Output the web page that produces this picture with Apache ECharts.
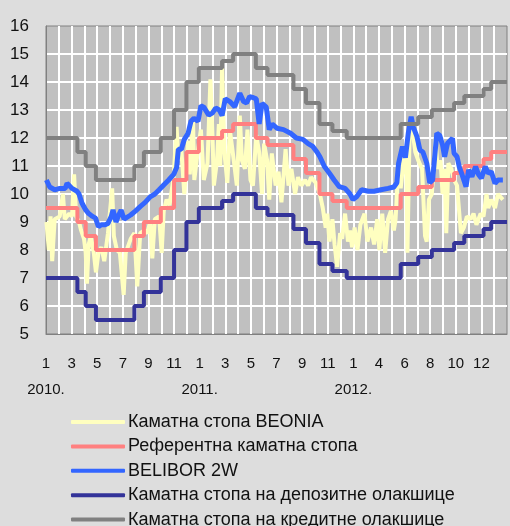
<!DOCTYPE html>
<html>
<head>
<meta charset="utf-8">
<title>Каматне стопе</title>
<script src="https://cdn.jsdelivr.net/npm/echarts@6/dist/echarts.min.js"></script>
<style>
    html,body{margin:0;padding:0;background:#dddddd;}
    #main{width:510px;height:526px;}
</style>
</head>
<body>
<div id="main"></div>
<script>
// x tick labels (every second month) and years under January
var monthLabels=['1','3','5','7','9','11','1','3','5','7','9','11','1','4','6','8','10','12'];
var yearLabels=['2010.','2011.','2012.'];

// policy corridor: dates of changes and the rates
var policyDates=['2010-01-01','2010-03-15','2010-04-04','2010-04-28','2010-07-29','2010-08-21','2010-09-30',
    '2010-11-01','2010-11-30','2010-12-30','2011-02-22','2011-03-20','2011-05-13','2011-06-10','2011-08-11',
    '2011-09-10','2011-10-12','2011-11-12','2011-12-16','2012-04-22','2012-06-03','2012-07-05','2012-08-28',
    '2012-09-21','2012-11-06','2012-11-24','2013-01-01'];
var refRate=[9.5,9.0,8.5,8.0,8.5,9.0,9.5,10.5,11.5,12.0,12.25,12.5,12.0,11.75,11.25,10.75,10.0,9.75,9.5,
    10.0,10.25,10.5,10.75,11.0,11.25,11.5,11.5];
var depositRate=[7.0,6.5,6.0,5.5,6.0,6.5,7.0,8.0,9.0,9.5,9.75,10.0,9.5,9.25,8.75,8.25,7.5,7.25,7.0,
    7.5,7.75,8.0,8.25,8.5,8.75,9.0,9.0];
var creditRate=[12.0,11.5,11.0,10.5,11.0,11.5,12.0,13.0,14.0,14.5,14.75,15.0,14.5,14.25,13.75,13.25,12.5,12.25,12.0,
    12.5,12.75,13.0,13.25,13.5,13.75,14.0,14.0];

// BEONIA
var beonia=[
    ['2010-01-02',9.0],['2010-01-08',8.0],['2010-01-12',9.2],['2010-01-16',7.6],['2010-01-22',9.1],
    ['2010-02-03',9.2],['2010-02-10',10.0],['2010-02-14',9.1],['2010-02-24',9.3],['2010-03-02',9.2],
    ['2010-03-07',10.7],['2010-03-12',9.2],['2010-03-19',9.0],['2010-03-24',8.7],['2010-03-31',8.4],
    ['2010-04-04',7.9],['2010-04-07',6.8],['2010-04-11',8.2],['2010-04-16',8.5],['2010-04-23',7.9],
    ['2010-04-28',7.2],['2010-05-04',7.9],['2010-05-11',8.1],['2010-05-18',7.6],['2010-05-27',8.6],
    ['2010-06-06',10.2],['2010-06-10',8.5],['2010-06-17',8.0],['2010-06-24',7.9],['2010-07-03',6.4],
    ['2010-07-08',7.9],['2010-07-20',8.4],['2010-07-29',8.6],['2010-08-05',6.7],['2010-08-12',8.6],
    ['2010-08-22',8.7],['2010-08-29',8.6],['2010-09-05',9.0],['2010-09-10',7.7],['2010-09-16',9.1],
    ['2010-09-26',9.2],['2010-10-02',7.9],['2010-10-07',9.4],['2010-10-14',9.8],['2010-10-21',9.6],
    ['2010-10-31',10.6],['2010-11-07',12.4],['2010-11-11',11.2],['2010-11-18',11.6],['2010-11-25',10.0],
    ['2010-12-04',11.9],['2010-12-08',10.7],['2010-12-16',12.6],['2010-12-19',10.5],['2010-12-28',11.6],
    ['2011-01-04',12.3],['2011-01-11',10.5],['2011-01-20',11.1],['2011-01-27',14.1],['2011-02-01',12.1],
    ['2011-02-04',10.3],['2011-02-11',11.2],['2011-02-15',12.5],['2011-02-18',11.0],['2011-02-22',14.5],
    ['2011-02-27',11.5],['2011-03-06',10.4],['2011-03-12',12.3],['2011-03-19',11.5],['2011-03-29',10.3],
    ['2011-04-05',12.8],['2011-04-10',11.2],['2011-04-17',10.9],['2011-04-23',12.3],['2011-04-30',10.5],
    ['2011-05-06',10.3],['2011-05-14',12.1],['2011-05-21',11.5],['2011-05-28',10.0],['2011-06-02',11.8],
    ['2011-06-09',11.2],['2011-06-14',9.8],['2011-06-20',11.45],['2011-06-29',10.3],['2011-07-06',10.8],
    ['2011-07-13',9.7],['2011-07-23',11.6],['2011-07-30',10.3],['2011-08-06',10.9],['2011-08-15',10.0],
    ['2011-08-22',10.6],['2011-08-30',10.3],['2011-09-08',10.5],['2011-09-15',10.3],['2011-09-22',10.6],
    ['2011-10-03',10.4],['2011-10-13',10.0],['2011-10-20',9.5],['2011-10-27',8.8],['2011-10-31',9.3],
    ['2011-11-05',8.3],['2011-11-12',9.1],['2011-11-17',8.2],['2011-11-23',7.4],['2011-11-30',8.6],
    ['2011-12-05',8.4],['2011-12-12',9.3],['2011-12-19',8.3],['2011-12-24',8.7],['2011-12-29',8.1],
    ['2012-01-04',8.8],['2012-01-11',8.0],['2012-01-18',8.9],['2012-01-28',9.3],['2012-02-04',8.3],
    ['2012-02-12',8.8],['2012-02-19',8.2],['2012-02-26',9.1],['2012-03-02',8.0],['2012-03-09',9.3],
    ['2012-03-16',7.9],['2012-03-23',9.1],['2012-03-30',9.4],['2012-04-06',8.7],['2012-04-10',9.1],
    ['2012-04-17',11.1],['2012-04-22',10.2],['2012-04-26',10.8],['2012-05-01',11.5],['2012-05-06',10.6],
    ['2012-05-08',7.9],['2012-05-13',12.0],['2012-05-20',12.3],['2012-05-27',11.5],['2012-06-03',11.2],
    ['2012-06-12',10.9],['2012-06-19',8.5],['2012-06-23',8.3],['2012-06-28',9.8],['2012-07-05',10.0],
    ['2012-07-10',11.0],['2012-07-14',12.0],['2012-07-19',10.9],['2012-07-26',11.2],['2012-07-31',10.0],
    ['2012-08-05',10.9],['2012-08-09',8.6],['2012-08-14',11.1],['2012-08-21',10.9],['2012-08-28',10.5],
    ['2012-09-04',10.3],['2012-09-13',8.6],['2012-09-20',8.8],['2012-09-27',9.2],['2012-10-06',9.1],
    ['2012-10-13',9.3],['2012-10-20',8.9],['2012-10-30',9.3],['2012-11-06',9.2],['2012-11-13',10.0],
    ['2012-11-17',9.5],['2012-11-24',9.8],['2012-12-03',9.5],['2012-12-10',10.0],['2012-12-22',9.8]
];

// BELIBOR 2W
var belibor=[
    ['2010-01-02',10.5],['2010-01-10',10.25],['2010-01-22',10.15],['2010-02-03',10.2],['2010-02-15',10.2],
    ['2010-02-19',10.38],['2010-03-02',10.2],['2010-03-14',10.1],['2010-03-19',10.0],['2010-03-26',9.68],
    ['2010-04-04',9.43],['2010-04-11',9.3],['2010-04-20',9.2],['2010-04-27',9.14],['2010-05-04',8.83],
    ['2010-05-11',8.9],['2010-05-20',8.9],['2010-05-27',8.95],['2010-06-04',9.2],['2010-06-08',9.43],
    ['2010-06-15',9.0],['2010-06-20',9.2],['2010-06-27',9.43],['2010-07-04',9.1],['2010-07-08',9.07],
    ['2010-07-20',9.25],['2010-08-01',9.4],['2010-08-12',9.55],['2010-08-24',9.7],['2010-09-05',9.9],
    ['2010-09-16',10.0],['2010-09-26',10.15],['2010-10-07',10.32],['2010-10-19',10.5],['2010-10-31',10.7],
    ['2010-11-07',10.95],['2010-11-11',11.6],['2010-11-18',11.6],['2010-11-25',11.95],['2010-12-04',12.17],
    ['2010-12-11',12.6],['2010-12-18',12.7],['2010-12-28',12.6],['2011-01-04',13.15],['2011-01-11',13.1],
    ['2011-01-23',12.82],['2011-02-01',12.9],['2011-02-08',13.07],['2011-02-16',13.0],['2011-02-22',12.8],
    ['2011-03-01',13.4],['2011-03-12',13.3],['2011-03-24',13.12],['2011-04-05',13.6],['2011-04-14',13.3],
    ['2011-04-21',13.25],['2011-04-28',13.48],['2011-05-05',13.45],['2011-05-14',13.4],['2011-05-21',12.5],
    ['2011-05-28',13.24],['2011-06-07',13.1],['2011-06-14',12.3],['2011-06-21',12.5],['2011-07-02',12.35],
    ['2011-07-18',12.3],['2011-08-04',12.17],['2011-08-18',12.0],['2011-09-03',11.95],['2011-09-15',11.8],
    ['2011-09-26',11.7],['2011-10-06',11.5],['2011-10-13',11.33],['2011-10-24',10.98],['2011-11-05',10.74],
    ['2011-11-16',10.5],['2011-11-28',10.26],['2011-12-12',10.2],['2011-12-24',10.0],['2011-12-31',9.8],
    ['2012-01-09',9.9],['2012-01-21',10.15],['2012-02-06',10.1],['2012-02-19',10.1],['2012-03-06',10.15],
    ['2012-03-23',10.2],['2012-04-06',10.25],['2012-04-13',10.4],['2012-04-17',11.1],['2012-04-26',11.69],
    ['2012-05-03',11.3],['2012-05-10',12.17],['2012-05-17',12.76],['2012-05-22',12.4],['2012-05-31',12.05],
    ['2012-06-07',11.57],['2012-06-14',11.5],['2012-06-23',11.1],['2012-06-30',10.4],['2012-07-07',10.5],
    ['2012-07-17',12.17],['2012-07-24',12.1],['2012-07-31',11.75],['2012-08-05',11.33],['2012-08-12',11.81],
    ['2012-08-24',11.99],['2012-08-28',11.45],['2012-09-04',11.33],['2012-09-09',10.98],['2012-09-16',10.68],
    ['2012-09-25',10.26],['2012-10-01',10.86],['2012-10-09',10.62],['2012-10-18',10.98],['2012-10-25',10.7],
    ['2012-11-01',10.56],['2012-11-10',10.98],['2012-11-17',10.74],['2012-11-24',10.8],['2012-12-03',10.38],
    ['2012-12-10',10.5],['2012-12-22',10.5]
];

var seriesNames=['Каматна стопа BEONIA','Референтна каматна стопа','BELIBOR 2W',
    'Каматна стопа на депозитне олакшице','Каматна стопа на кредитне олакшице'];
var seriesColors=['#ffffc0','#ff8080','#3366ff','#333399','#808080'];

// month position on the axis, January 2010 = 0
function monthPos(s){
    var p=s.split('-'),
        y=+p[0], m=+p[1], d=+p[2],
        days=new Date(y,m,0).getDate();
    return (y-2010)*12+(m-1)+(d-1)/days;
}

function toPoints(list){
    return list.map(function(r){return [monthPos(r[0]),r[1]];});
}

function stepPoints(values){
    return policyDates.map(function(d,i){return [monthPos(d),values[i]];});
}

function lineSeries(i,data,width,step){
    return {
        name:seriesNames[i],
        type:'line',
        data:data,
        step:step||false,
        symbol:'none',
        color:seriesColors[i],
        lineStyle:{width:width,color:seriesColors[i]},
        emphasis:{disabled:true}
    };
}

var chart=echarts.init(document.getElementById('main'));
var option={
    backgroundColor:'#dddddd',
    animation:false,
    textStyle:{fontFamily:'Liberation Sans, Arial, sans-serif'},
    grid:{
        left:46,top:26,width:473,height:308,
        show:true,backgroundColor:'#c0c0c0',borderColor:'#808080',borderWidth:1
    },
    legend:{
        orient:'vertical',
        left:71,top:412,height:200,padding:0,
        itemWidth:54,itemHeight:4,itemGap:4.4,
        icon:'roundRect',
        textStyle:{fontSize:18,color:'#111',lineHeight:20,padding:[0,0,0,-2]},
        data:seriesNames
    },
    xAxis:{
        type:'value',min:0,max:36,interval:1,
        axisLine:{show:true,lineStyle:{color:'#808080',width:1}},
        axisTick:{show:false},
        splitLine:{show:true,showMinLine:false,showMaxLine:false,lineStyle:{color:'#ffffff',width:2}},
        axisLabel:{
            fontSize:15,color:'#111',lineHeight:26,margin:17,
            formatter:function(v){
                if(v%2!==0||v>=36) return '';
                var s=monthLabels[v/2];
                if(v%12===0) s+='\n'+yearLabels[v/12];
                return s;
            }
        }
    },
    yAxis:{
        type:'value',min:5,max:16,interval:1,
        axisLine:{show:true,lineStyle:{color:'#808080',width:1}},
        axisTick:{show:false},
        splitLine:{show:true,showMinLine:false,showMaxLine:false,lineStyle:{color:'#ffffff',width:2}},
        axisLabel:{fontSize:17,color:'#111',margin:17}
    },
    series:[
        lineSeries(0,toPoints(beonia),4),
        lineSeries(1,stepPoints(refRate),4,'end'),
        lineSeries(2,toPoints(belibor),5),
        lineSeries(3,stepPoints(depositRate),4,'end'),
        lineSeries(4,stepPoints(creditRate),4,'end')
    ]
};
chart.setOption(option);
</script>
</body>
</html>
